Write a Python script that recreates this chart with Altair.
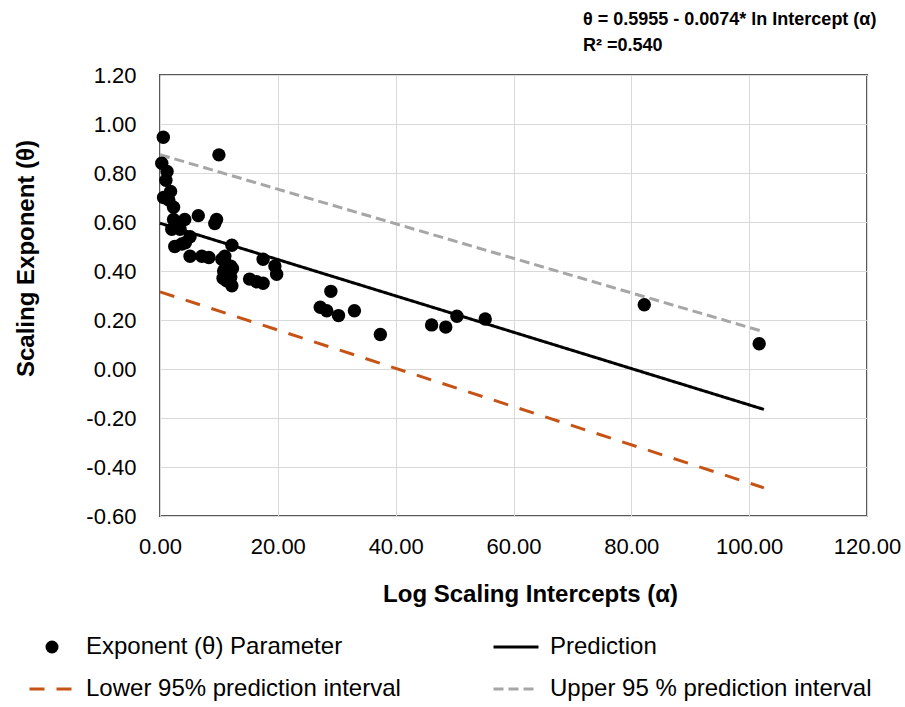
import altair as alt
import pandas as pd

FONT = "Liberation Sans"

# ---- data ----
point_x = [0.56, 10.0, 0.3, 1.2, 1.0, 1.8, 0.6, 1.5, 2.3, 2.3, 4.2, 6.5, 9.6, 9.3,
           2.0, 3.4, 5.1, 2.5, 3.7, 4.3, 5.1, 7.1, 8.3, 12.2, 11.0,
           10.5, 11.2, 12.0, 10.8, 11.6, 10.7, 11.3, 12.3, 12.0, 12.2,
           17.5, 19.5, 19.8, 15.2, 16.4, 17.5,
           29.0, 27.2, 28.3, 30.3, 33.0, 37.4, 46.1, 48.5, 50.4, 55.2, 82.2, 101.7]
point_y = [0.946, 0.874, 0.84, 0.806, 0.77, 0.725, 0.70, 0.69, 0.66, 0.61, 0.61, 0.626, 0.61, 0.594,
           0.57, 0.57, 0.54, 0.50, 0.51, 0.515, 0.46, 0.46, 0.455, 0.505, 0.46,
           0.448, 0.43, 0.42, 0.40, 0.39, 0.37, 0.36, 0.41, 0.375, 0.34,
           0.448, 0.42, 0.387, 0.367, 0.356, 0.35,
           0.317, 0.252, 0.238, 0.218, 0.238, 0.141, 0.18, 0.171, 0.215, 0.204, 0.262, 0.103]

line_x = [0.0, 102.5]
pred_y = [0.595, -0.165]
lower_y = [0.315, -0.485]
upper_y = [0.875, 0.152]

series_names = ["Exponent (θ) Parameter", "Prediction",
                "Lower 95% prediction interval", "Upper 95 % prediction interval"]
series_colors = ["#000000", "#000000", "#C65316", "#A6A6A6"]
series_dash = [[1, 0], [1, 0], [15, 12], [10, 5]]

x_ticks = [0, 20, 40, 60, 80, 100, 120]
y_ticks = [-0.6, -0.4, -0.2, 0.0, 0.2, 0.4, 0.6, 0.8, 1.0, 1.2]
title_lines = ["θ = 0.5955 - 0.0074* ln Intercept (α)", "R² =0.540"]
x_title = "Log Scaling Intercepts (α)"
y_title = "Scaling Exponent (θ)"

# ---- tables ----
pts = pd.DataFrame({"x": point_x, "y": point_y, "series": series_names[0]})
lines = pd.concat([
    pd.DataFrame({"x": line_x, "y": pred_y, "series": series_names[1]}),
    pd.DataFrame({"x": line_x, "y": lower_y, "series": series_names[2]}),
    pd.DataFrame({"x": line_x, "y": upper_y, "series": series_names[3]}),
])


def pick(values):
    """nested ternary over the legend entries"""
    expr = repr(values[-1]) if not isinstance(values[-1], list) else str(values[-1])
    for name, v in reversed(list(zip(series_names[:-1], values[:-1]))):
        vs = repr(v) if not isinstance(v, list) else str(v)
        expr = f"(datum.value === '{name}' ? {vs} : {expr})"
    return expr


legend = alt.Legend(
    title=None, orient="none", direction="horizontal", legendX=-132, legendY=548, columns=2,
    columnPadding=86, rowPadding=6,
    symbolType=alt.ExprRef(expr=pick(["circle", "stroke", "stroke", "stroke"])),
    symbolSize=alt.ExprRef(expr=pick([169, 2025, 2025, 2025])),
    symbolStrokeWidth=alt.ExprRef(expr=pick([0, 3, 3, 3])),
    symbolDash=alt.ExprRef(expr=pick(series_dash)),
    symbolFillColor=alt.ExprRef(expr=pick(["#000000", "transparent", "transparent", "transparent"])),
    symbolStrokeColor=alt.ExprRef(expr=pick(series_colors)),
    labelFontSize=24, labelFont=FONT, labelColor="black",
    labelOffset=10, labelLimit=600,
)

color = alt.Color("series:N", scale=alt.Scale(domain=series_names, range=series_colors),
                  legend=legend)

xenc = alt.X("x:Q", scale=alt.Scale(domain=[0, 120], nice=False, zero=False),
             axis=alt.Axis(values=x_ticks, title=x_title, labelExpr="format(datum.value, '.2f')",
                           labelFlush=False, labelPadding=20, titleX=370, titleY=66,
                           titleBaseline="top"))
yenc = alt.Y("y:Q", scale=alt.Scale(domain=[-0.6, 1.2], nice=False, zero=False),
             axis=alt.Axis(values=y_ticks, title=y_title,
                           labelExpr="(datum.value < -0.0001 ? '-' : '') + format(abs(datum.value), '.2f')",
                           labelFlush=False, labelPadding=24, titleX=-134, titleY=183,
                           titleBaseline="middle"))

line_layer = alt.Chart(lines).mark_line(strokeWidth=3).encode(
    x=xenc, y=yenc, color=color,
    strokeDash=alt.StrokeDash("series:N", scale=alt.Scale(domain=series_names, range=series_dash),
                              legend=None),
)
point_layer = alt.Chart(pts).mark_circle(size=180, opacity=1).encode(
    x=xenc, y=yenc, color=color,
)

chart = alt.layer(line_layer, point_layer).properties(
    width=707, height=441,
    padding={"left": 160, "top": 75, "right": 38, "bottom": 191},
    autosize=alt.AutoSizeParams(type="none"),
    background="white",
    title=alt.TitleParams(text=title_lines, anchor="start", dx=423, dy=4, fontSize=18,
                          fontWeight="bold", font=FONT, lineHeight=26, offset=13,
                          frame="group", color="#000000"),
).configure_view(
    stroke="#595959", strokeWidth=2
).configure_axis(
    domain=False, ticks=False, grid=True, gridColor="#D9D9D9", gridWidth=1,
    labelFont=FONT, labelFontSize=22, labelColor="#000000",
    titleFont=FONT, titleFontSize=24, titleFontWeight="bold", titleColor="#000000",
)

chart.save("out.html", embed_options={"renderer": "svg", "actions": False})
